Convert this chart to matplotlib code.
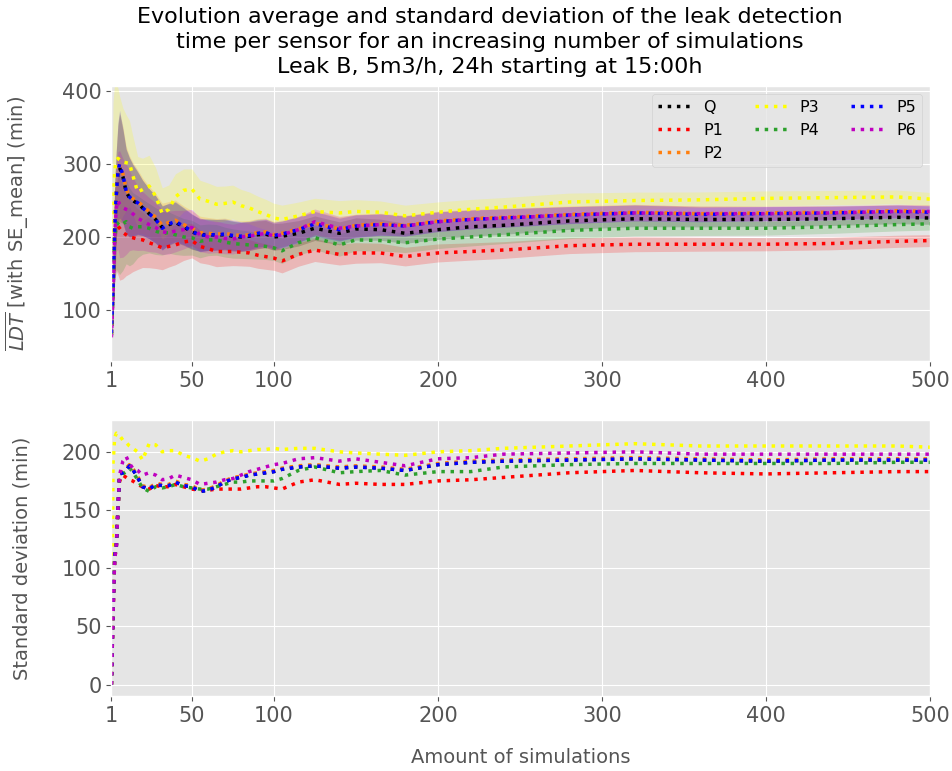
import numpy as np
import matplotlib
matplotlib.use("Agg")
import matplotlib.pyplot as plt

plt.style.use('ggplot')

# Amount of simulations (sampled)
n_sim = [1, 2, 3, 4, 5, 6, 8, 10, 12, 14, 17, 20, 24, 28, 32, 36, 40, 45, 50, 55,
         60, 65, 70, 75, 80, 85, 90, 95, 100, 105, 115, 125, 140, 150, 165, 180,
         200, 220, 240, 280, 320, 360, 400, 440, 480, 500]

sensors = ['Q', 'P1', 'P2', 'P3', 'P4', 'P5', 'P6']
colors = ['black', 'red', 'tab:orange', 'yellow', 'tab:green', 'blue', 'm']

# mean leak detection time (min)
mean_Q = [68, 130, 210, 258, 285, 295, 283, 262, 254, 250, 246, 240, 232, 224, 213, 217, 220, 214, 207, 203,
          203, 203, 203, 201, 200, 201, 203, 204, 200, 201, 205, 212, 205, 211, 210, 205,
          210, 214, 216, 222, 225, 224, 224, 225, 227, 226]
mean_P1 = [65, 130, 205, 212, 215, 212, 206, 203, 200, 199, 197, 196, 192, 189, 185, 187, 189, 193, 195, 187,
           184, 180, 180, 180, 179, 178, 175, 173, 171, 167, 176, 182, 176, 178, 178, 173,
           178, 180, 182, 188, 190, 190, 190, 191, 194, 195]
mean_P2 = [68, 132, 212, 262, 288, 298, 287, 266, 257, 253, 249, 243, 235, 227, 216, 220, 223, 217, 212, 206,
           205, 204, 205, 203, 202, 203, 206, 207, 203, 205, 211, 219, 211, 216, 218, 216,
           222, 225, 227, 231, 234, 232, 233, 234, 236, 235]
mean_P3 = [130, 250, 290, 305, 308, 306, 303, 302, 301, 285, 262, 265, 270, 256, 232, 238, 255, 264, 266, 252,
           249, 245, 246, 248, 243, 240, 235, 231, 226, 224, 229, 235, 233, 235, 234, 229,
           234, 238, 241, 248, 250, 251, 253, 254, 255, 252]
mean_P4 = [65, 130, 200, 215, 219, 221, 218, 221, 214, 212, 214, 214, 212, 208, 205, 206, 203, 200, 199, 194,
           196, 196, 193, 191, 190, 189, 188, 187, 185, 181, 192, 199, 189, 196, 195, 192,
           197, 200, 203, 209, 212, 212, 212, 214, 217, 218]
mean_P5 = [68, 130, 210, 260, 290, 300, 285, 263, 255, 251, 247, 240, 232, 224, 212, 218, 221, 215, 208, 202,
           203, 203, 204, 202, 201, 202, 205, 206, 202, 204, 210, 218, 210, 215, 217, 215,
           221, 224, 226, 230, 233, 231, 232, 233, 235, 234]
mean_P6 = [62, 120, 200, 240, 250, 245, 240, 238, 236, 232, 226, 222, 217, 213, 207, 206, 208, 210, 213, 203,
           200, 200, 198, 197, 200, 201, 203, 205, 201, 203, 210, 221, 212, 215, 217, 215,
           221, 224, 226, 230, 233, 232, 232, 233, 235, 235]

# standard deviation of the leak detection time (min)
std_Q = [0, 65, 111, 119, 151, 181, 182, 184, 188, 185, 178, 170, 168, 172, 171, 171, 174, 171, 170, 166,
         167, 170, 174, 177, 178, 180, 181, 182, 183, 185, 187, 188, 186, 187, 186, 184,
         189, 191, 192, 193, 194, 193, 192, 193, 193, 193]
std_P1 = [0, 60, 108, 118, 150, 175, 180, 178, 176, 175, 172, 170, 168, 171, 170, 170, 172, 170, 168, 167,
          167, 168, 168, 168, 168, 169, 170, 170, 169, 168, 174, 176, 172, 173, 172, 172,
          175, 176, 178, 182, 184, 182, 181, 182, 183, 183]
std_P2 = [0, 64, 110, 120, 152, 180, 184, 186, 189, 186, 179, 171, 169, 173, 172, 172, 175, 172, 171, 167,
          168, 171, 175, 178, 179, 181, 182, 183, 184, 186, 188, 189, 187, 188, 187, 185,
          190, 192, 193, 194, 195, 194, 193, 194, 194, 194]
std_P3 = [0, 190, 212, 216, 215, 214, 210, 208, 205, 203, 200, 193, 207, 206, 200, 201, 201, 197, 195, 192,
          194, 198, 200, 201, 200, 201, 202, 202, 203, 202, 203, 203, 200, 199, 198, 197,
          200, 201, 203, 205, 207, 205, 205, 205, 205, 204]
std_P4 = [0, 62, 110, 119, 150, 178, 181, 183, 186, 183, 176, 169, 166, 170, 169, 170, 172, 170, 169, 168,
          168, 170, 172, 174, 174, 175, 175, 175, 175, 177, 184, 187, 182, 183, 184, 180,
          183, 183, 187, 189, 190, 190, 190, 190, 191, 191]
std_P5 = [0, 65, 111, 119, 151, 181, 182, 184, 188, 185, 178, 170, 168, 172, 171, 171, 174, 171, 170, 166,
          167, 170, 174, 177, 178, 180, 181, 182, 183, 185, 187, 188, 186, 187, 186, 184,
          189, 191, 192, 193, 194, 193, 192, 193, 193, 193]
std_P6 = [0, 60, 108, 118, 150, 180, 192, 196, 190, 186, 184, 180, 182, 180, 176, 177, 180, 178, 176, 172,
          173, 174, 176, 177, 180, 183, 185, 187, 189, 190, 194, 195, 192, 194, 191, 188,
          194, 195, 198, 199, 200, 198, 198, 198, 198, 198]

means = [mean_Q, mean_P1, mean_P2, mean_P3, mean_P4, mean_P5, mean_P6]
stds = [std_Q, std_P1, std_P2, std_P3, std_P4, std_P5, std_P6]

x = np.array(n_sim)

fig, (ax1, ax2) = plt.subplots(2, 1, figsize=(9.52, 7.71), dpi=100)
fig.subplots_adjust(left=0.117, right=0.977, top=0.889, bottom=0.097, hspace=0.214)

for name, c, m, s in zip(sensors, colors, means, stds):
    m = np.array(m, dtype=float)
    se = np.array(s, dtype=float) / np.sqrt(x)   # SE of the mean
    ax1.plot(x, m, ':', color=c, lw=2.5, label=name)
    ax1.fill_between(x, m - se, m + se, color=c, alpha=0.2, lw=0)
    ax2.plot(x, s, ':', color=c, lw=2.5)

ticks = [1, 50, 100, 200, 300, 400, 500]
for ax in (ax1, ax2):
    ax.set_xlim(1, 500)
    ax.set_xticks(ticks)
    ax.tick_params(labelsize=15)

ax1.set_ylim(29, 408)
ax1.set_yticks([100, 200, 300, 400])
ax2.set_ylim(-10, 227)
ax2.set_yticks([0, 50, 100, 150, 200])

ax1.set_ylabel(r'$\overline{LDT}$ [with SE_mean] (min)', fontsize=14, labelpad=22)
ax2.set_ylabel('Standard deviation (min)', fontsize=14, labelpad=22)
ax2.set_xlabel('Amount of simulations', fontsize=14, labelpad=16)

ax1.legend(loc='upper right', ncol=3, fontsize=11.5, handlelength=2)

fig.suptitle('Evolution average and standard deviation of the leak detection\n'
             'time per sensor for an increasing number of simulations\n'
             'Leak B, 5m3/h, 24h starting at 15:00h',
             x=0.514, y=0.991, fontsize=16, linespacing=1.32)

plt.savefig('out.png')
